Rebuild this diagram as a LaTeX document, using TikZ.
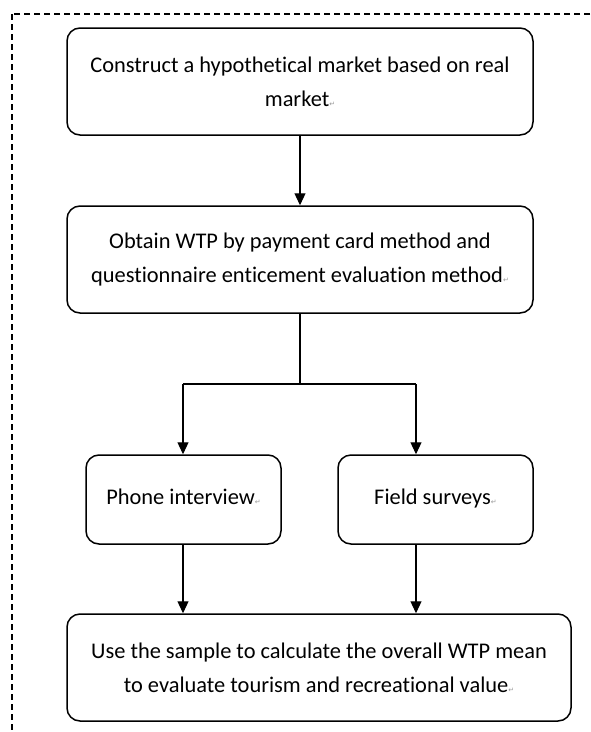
\documentclass[tikz,border=0pt]{standalone}
\usepackage{fontspec}
\setmainfont{Carlito}[Ligatures={NoCommon}]
\newfontfamily\dejavu{DejaVu Sans}
\usepackage{tikz}
\usepackage{xcolor}
\usetikzlibrary{arrows.meta}

% marca de parrafo gris como en el original
\newcommand{\parmark}{{\dejavu\fontsize{7}{7}\selectfont\color{gray!80}\symbol{"21B5}}}

\begin{document}
\begin{tikzpicture}[
    x=1pt, y=-1pt,
    % Definimos el estilo de las cajas para no repetir codigo
    box/.style={draw, line width=1.5pt, rounded corners=13pt, align=center,
      inner sep=0pt, font=\fontsize{22.4}{34}\selectfont},
    bigbox/.style={box, minimum width=466pt, minimum height=107pt},
    smallbox/.style={box, minimum width=195pt, minimum height=89pt,
      text height=15pt, text depth=5pt},
    flecha/.style={line width=1.2pt, -{Triangle[length=12pt, width=11pt]}},
    linea/.style={line width=1.2pt}
  ]

  \useasboundingbox (0,0) rectangle (590,732);
  \clip (0,0) rectangle (590,732);

  % 1. Marco discontinuo
  \draw[line width=2.2pt, dash pattern=on 6pt off 4pt] (12,14) rectangle (620,760);

  % 2. Cajas del flujo
  \node[bigbox] (b1) at (300, 81.5) {Construct a hypothetical market based on real\\ market\parmark};
  \node[bigbox] (b2) at (300, 259.5) {Obtain WTP by payment card method and\\ questionnaire enticement evaluation method\parmark};

  \node[smallbox] (phone) at (183.5, 499.5) {Phone interview\parmark};
  \node[smallbox] (field) at (435.5, 499.5) {Field surveys\parmark};

  \node[bigbox, minimum width=504pt] (b5) at (319, 667.5) {Use the sample to calculate the overall WTP mean\\ to evaluate tourism and recreational value\parmark};

  % 3. Puntos de la bifurcacion
  \coordinate (split) at (300, 384);
  \coordinate (lft) at (183, 384);
  \coordinate (rgt) at (416, 384);

  % 4. Conexiones
  \draw[flecha] (b1) -- (b2);
  \draw[linea] (b2) -- (split);
  \draw[linea] (lft) -- (rgt);
  \draw[flecha] (lft) -- (lft |- phone.north);
  \draw[flecha] (rgt) -- (rgt |- field.north);

  % Conexiones hacia la caja final
  \draw[flecha] (lft |- phone.south) -- (lft |- b5.north);
  \draw[flecha] (rgt |- field.south) -- (rgt |- b5.north);

\end{tikzpicture}
\end{document}
